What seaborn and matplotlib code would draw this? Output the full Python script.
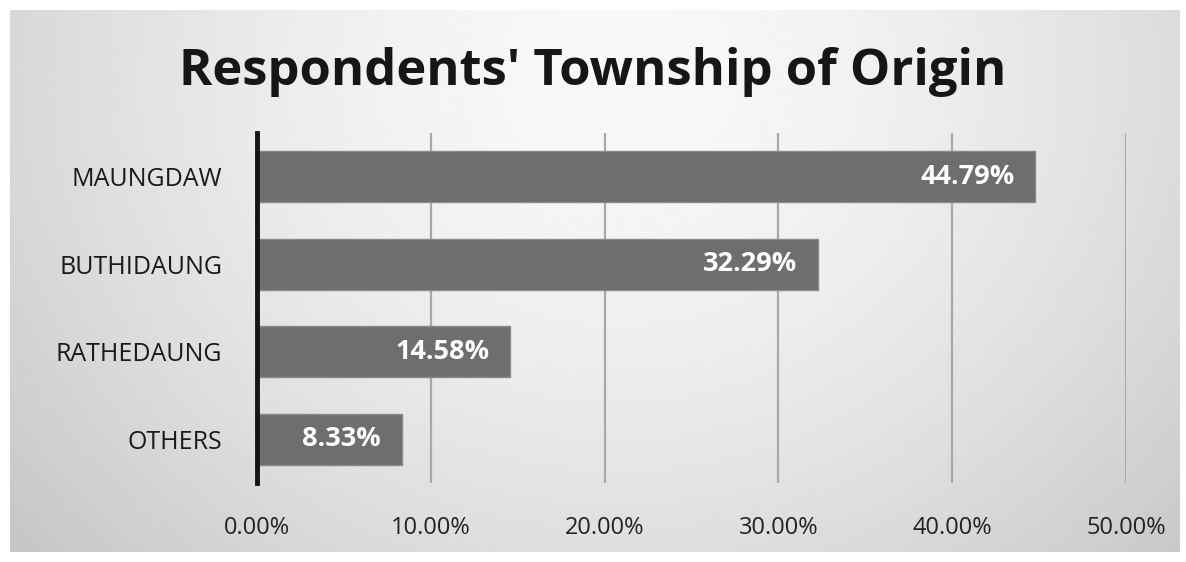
import numpy as np
import pandas as pd
import matplotlib
matplotlib.use("Agg")
import matplotlib.pyplot as plt
import seaborn as sns

# --- chart data ---
townships = ["MAUNGDAW", "BUTHIDAUNG", "RATHEDAUNG", "OTHERS"]
shares = [44.79, 32.29, 14.58, 8.33]
x_ticks = [0, 10, 20, 30, 40, 50]
x_tick_labels = ["0.00%", "10.00%", "20.00%", "30.00%", "40.00%", "50.00%"]
title = "Respondents' Township of Origin"

df = pd.DataFrame({"township": townships, "share": shares})

sns.set_theme(style="white")
plt.rcParams["font.family"] = ["Open Sans", "DejaVu Sans"]

fig = plt.figure(figsize=(11.86, 5.62), dpi=100)
fig.patch.set_facecolor("white")

# grey radial gradient panel behind the chart
bg = fig.add_axes([10 / 1186, 10 / 562, 1170 / 1186, 542 / 562])
yy, xx = np.mgrid[0:1:200j, 0:1:400j]
dist = np.sqrt(((xx - 0.52) / 0.62) ** 2 + ((yy - 0.12) / 1.2) ** 2)
shade = 0.975 - 0.17 * np.clip(dist, 0, 1.2) ** 1.6
bg.imshow(shade, cmap="gray", vmin=0, vmax=1, aspect="auto", extent=[0, 1, 0, 1], origin="upper")
bg.set_axis_off()

ax = fig.add_axes([257 / 1186, 79 / 562, 869 / 1186, 350 / 562])
ax.patch.set_alpha(0)

sns.barplot(data=df, x="share", y="township", orient="h", color="#6e6e70",
            saturation=1, width=0.58, edgecolor="#8a8a8c", linewidth=1,
            ax=ax, zorder=3)

ax.set_xlim(0, 50)
ax.set_ylim(3.5, -0.5)
ax.set_xticks(x_ticks)
ax.set_xticklabels(x_tick_labels, fontsize=17, color="#222222")
ax.tick_params(axis="x", length=0, pad=24)
ax.tick_params(axis="y", length=0, pad=25, labelsize=18, labelcolor="#1a1a1a")
ax.set_xlabel("")
ax.set_ylabel("")

for xv in x_ticks[1:]:
    ax.axvline(xv, color="#a8a8a8", lw=1.6, zorder=1)

for s in ["top", "right", "bottom"]:
    ax.spines[s].set_visible(False)
ax.spines["left"].set_color("#151515")
ax.spines["left"].set_linewidth(3.5)
ax.spines["left"].set_zorder(4)

for i, v in enumerate(shares):
    ax.text(v - 1.2, i, f"{v:.2f}%", ha="right", va="center", color="white",
            fontsize=19.5, fontweight="bold", zorder=5)

fig.text(0.5, 1 - 72 / 562, title, ha="center", va="center",
         fontsize=36.5, fontweight="bold", color="#161616")

fig.savefig("out.png", dpi=100)
